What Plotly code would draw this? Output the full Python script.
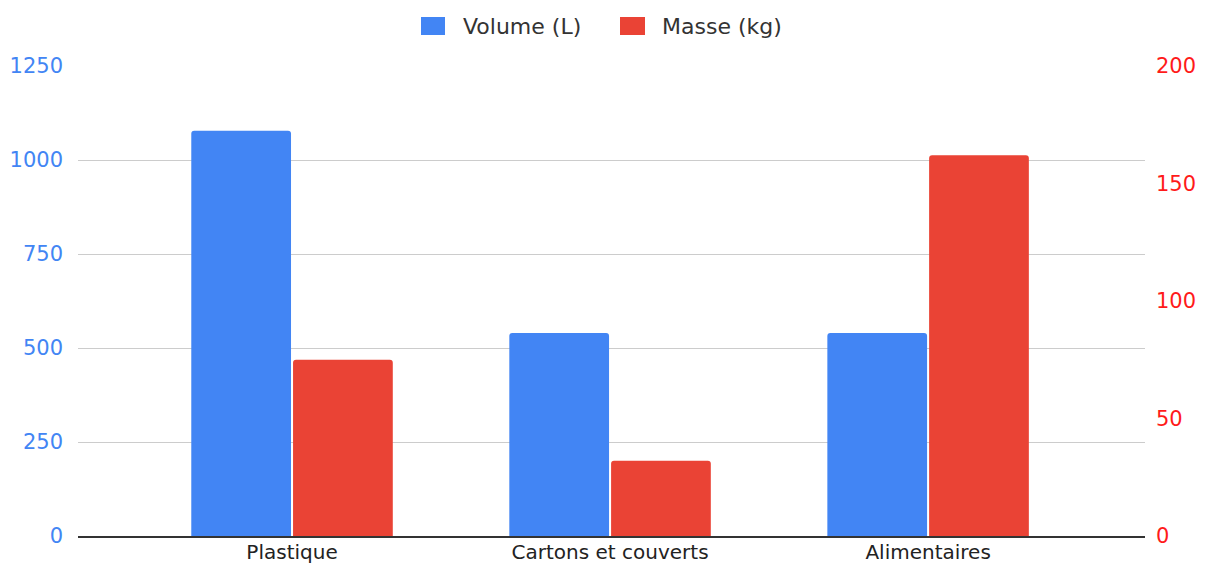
import plotly.graph_objects as go

categories = ["Plastique", "Cartons et couverts", "Alimentaires"]
volume_l = [1078, 540, 540]
masse_kg = [75, 32, 162]
left_ticks = [0, 250, 500, 750, 1000, 1250]
right_ticks = [0, 50, 100, 150, 200]
series_names = ["Volume (L)", "Masse (kg)"]

BLUE = "#4285F4"
RED = "#EA4335"
FONT = "DejaVu Sans, Liberation Sans, Arial, sans-serif"

# page has an 8px body margin: figure placed at (8, 8)
OFF = 8
W, H = 1207 - OFF, 563 - OFF
ML, MR, MT, MB = 78 - OFF, 62, 66 - OFF, 27
PW, PH = W - ML - MR, H - MT - MB


def px_x(x):  # page pixel -> paper fraction
    return (x - OFF - ML) / PW


def px_y(y):
    return (H - MB - (y - OFF)) / PH


fig = go.Figure()
fig.add_trace(go.Bar(x=categories, y=volume_l, name=series_names[0],
                     marker=dict(color=BLUE, line=dict(width=0)), yaxis="y",
                     offsetgroup="a"))
fig.add_trace(go.Bar(x=categories, y=masse_kg, name=series_names[1],
                     marker=dict(color=RED, line=dict(width=0)), yaxis="y2",
                     offsetgroup="b"))

# custom legend (squares + labels) at the top
shapes = []
annotations = []
for (x0, x1, tx), col, name in zip([(421, 445, 461), (620, 645, 660)], [BLUE, RED], series_names):
    shapes.append(dict(type="rect", xref="paper", yref="paper",
                       x0=px_x(x0), x1=px_x(x1), y0=px_y(35), y1=px_y(17),
                       fillcolor=col, line=dict(width=0), layer="above"))
    annotations.append(dict(xref="paper", yref="paper", x=px_x(tx), y=px_y(26),
                            xanchor="left", yanchor="middle", text=name, showarrow=False,
                            font=dict(family=FONT, size=22, color="#333")))

fig.update_layout(
    width=W, height=H,
    margin=dict(l=ML, r=MR, t=MT, b=MB, pad=0, autoexpand=False),
    paper_bgcolor="white", plot_bgcolor="white",
    font=dict(family=FONT, size=21, color="#222"),
    barmode="group", bargap=0.36, bargroupgap=0.02, barcornerradius=3,
    showlegend=False,
    shapes=shapes, annotations=annotations,
    xaxis=dict(type="category", range=[-0.673, 2.682], showgrid=False,
               showline=True, linecolor="#333", linewidth=1.5, ticks="",
               tickfont=dict(size=20, color="#222"), fixedrange=True,
               automargin=False, ticklabelstandoff=-3),
    yaxis=dict(range=[0, 1250], tickvals=left_ticks, showgrid=True,
               gridcolor="#CCCCCC", gridwidth=1, zeroline=False,
               tickfont=dict(size=21, color=BLUE), ticks="",
               ticklabelstandoff=14, showline=False, automargin=False),
    yaxis2=dict(range=[0, 200], tickvals=right_ticks, overlaying="y", side="right",
                showgrid=False, zeroline=False, tickfont=dict(size=21, color="#FF1A1A"),
                ticks="", ticklabelstandoff=10, showline=False, automargin=False),
)

fig.write_html("out.html")
